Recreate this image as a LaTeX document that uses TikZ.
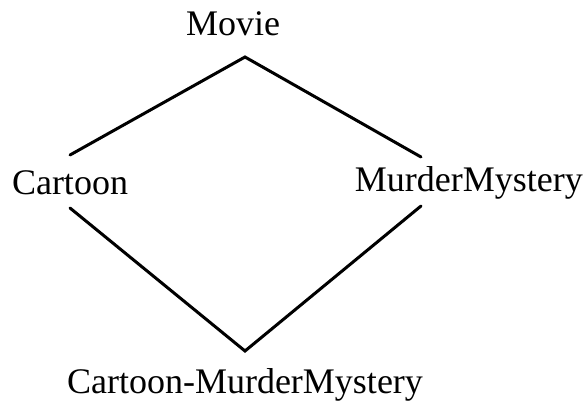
\documentclass[tikz,border=0pt]{standalone}
\usepackage{fontspec}
\setmainfont{Liberation Serif}
\begin{document}
\begin{tikzpicture}[x=1pt,y=-1pt,
  lbl/.style={font=\fontsize{36}{40}\selectfont, inner sep=0pt},
  edge/.style={line width=3pt, line cap=round, line join=miter}]
\useasboundingbox (0,0) rectangle (583,401);
\node[lbl] (movie) at (233,24) {Movie};
\node[lbl] (cartoon) at (70,183) {Cartoon};
\node[lbl, anchor=east] (mm) at (583,183) {MurderMystery};
\node[lbl] (cm) at (245,385) {Cartoon-MurderMystery};
\coordinate (top) at (245,57);
\coordinate (lu) at (70,155);
\coordinate (ru) at (421,157);
\coordinate (ll) at (70,208);
\coordinate (rl) at (421,206);
\coordinate (bot) at (245,351);
\draw[edge] (lu) -- (top) -- (ru);
\draw[edge] (ll) -- (bot) -- (rl);
\end{tikzpicture}
\end{document}
